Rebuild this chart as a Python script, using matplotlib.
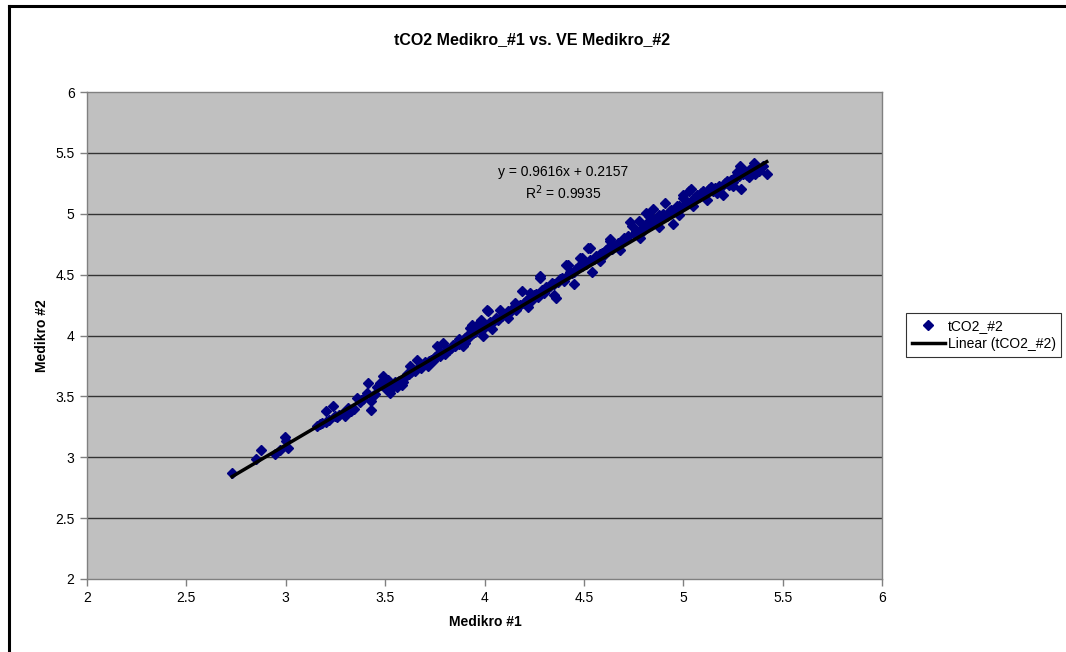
import matplotlib
matplotlib.use("Agg")
import matplotlib.pyplot as plt
from matplotlib.lines import Line2D

plt.rcParams['font.family'] = ['Liberation Sans', 'DejaVu Sans']

title = "tCO2 Medikro_#1 vs. VE Medikro_#2"
xlabel = "Medikro #1"
ylabel = "Medikro #2"
series_name = "tCO2_#2"
trend_name = "Linear (tCO2_#2)"
slope = 0.9616
intercept = 0.2157
r2 = 0.9935
xticks = [2, 2.5, 3, 3.5, 4, 4.5, 5, 5.5, 6]
yticks = [2, 2.5, 3, 3.5, 4, 4.5, 5, 5.5, 6]

pts_low = [(2.73, 2.87), (2.85, 2.985), (2.875, 3.056), (2.946, 3.03), (2.97, 3.06), (2.996, 3.166),
           (3.0, 3.136), (3.01, 3.08), (3.155, 3.26), (3.17, 3.27), (3.18, 3.28), (3.2, 3.29),
           (3.205, 3.377), (3.22, 3.31), (3.236, 3.42), (3.248, 3.336), (3.26, 3.33), (3.27, 3.35),
           (3.29, 3.36), (3.3, 3.34), (3.315, 3.405), (3.31, 3.37), (3.33, 3.38), (3.345, 3.40)]
pts_a = [(3.357, 3.487), (3.375, 3.45), (3.38, 3.47), (3.39, 3.48), (3.407, 3.53), (3.415, 3.61),
         (3.427, 3.39), (3.43, 3.46), (3.44, 3.50), (3.45, 3.52), (3.458, 3.58), (3.474, 3.61),
         (3.474, 3.597), (3.49, 3.665), (3.50, 3.57), (3.51, 3.59), (3.516, 3.638), (3.525, 3.528),
         (3.528, 3.56), (3.54, 3.60), (3.55, 3.62), (3.56, 3.58), (3.57, 3.63), (3.583, 3.597),
         (3.59, 3.62), (3.60, 3.66), (3.61, 3.68), (3.625, 3.747), (3.63, 3.70), (3.64, 3.72),
         (3.65, 3.71), (3.66, 3.80), (3.67, 3.74), (3.68, 3.73), (3.69, 3.76), (3.70, 3.78),
         (3.717, 3.747), (3.72, 3.79), (3.55, 3.59), (3.62, 3.68)]
pts_b = [(3.73, 3.80), (3.74, 3.79), (3.75, 3.82), (3.76, 3.91), (3.76, 3.84), (3.77, 3.85),
         (3.776, 3.83), (3.78, 3.86), (3.79, 3.94), (3.80, 3.87), (3.81, 3.89), (3.82, 3.88),
         (3.83, 3.90), (3.84, 3.92), (3.85, 3.91), (3.86, 3.94), (3.87, 3.97), (3.87, 3.93),
         (3.88, 3.95), (3.89, 3.91), (3.90, 3.98), (3.91, 4.00), (3.92, 3.99), (3.927, 4.06),
         (3.935, 4.09), (3.94, 4.02), (3.95, 4.03), (3.96, 4.09), (3.97, 4.05), (3.98, 4.13),
         (3.985, 4.10), (3.99, 3.995), (4.0, 4.07), (4.01, 4.09), (4.015, 4.21), (4.02, 4.20),
         (4.03, 4.11), (4.04, 4.05), (4.05, 4.12), (4.06, 4.14), (4.07, 4.13), (4.08, 4.21),
         (4.09, 4.16), (4.10, 4.18), (3.80, 3.85), (3.90, 3.94)]
pts_c = [(4.11, 4.17), (4.12, 4.20), (4.13, 4.19), (4.14, 4.22), (4.155, 4.27), (4.16, 4.21),
         (4.17, 4.24), (4.18, 4.25), (4.19, 4.365), (4.20, 4.27), (4.21, 4.28), (4.22, 4.30),
         (4.23, 4.35), (4.24, 4.29), (4.25, 4.33), (4.26, 4.34), (4.27, 4.32), (4.28, 4.49),
         (4.28, 4.475), (4.29, 4.37), (4.30, 4.35), (4.31, 4.40), (4.32, 4.39), (4.33, 4.41),
         (4.34, 4.43), (4.35, 4.42), (4.36, 4.31), (4.37, 4.44), (4.38, 4.46), (4.39, 4.47),
         (4.40, 4.45), (4.41, 4.58), (4.42, 4.58), (4.42, 4.50), (4.43, 4.52), (4.44, 4.51),
         (4.45, 4.52), (4.46, 4.55), (4.47, 4.56), (4.48, 4.64), (4.49, 4.64), (4.49, 4.57),
         (4.50, 4.60), (4.51, 4.59), (4.52, 4.72), (4.53, 4.72), (4.53, 4.62), (4.54, 4.52),
         (4.55, 4.63), (4.56, 4.65), (4.57, 4.64), (4.58, 4.67), (4.59, 4.68), (4.60, 4.66),
         (4.12, 4.14), (4.22, 4.23), (4.35, 4.33), (4.45, 4.42), (4.58, 4.61)]
pts_d = [(4.61, 4.70), (4.62, 4.72), (4.63, 4.78), (4.63, 4.79), (4.64, 4.71), (4.65, 4.74),
         (4.66, 4.735), (4.67, 4.76), (4.68, 4.75), (4.69, 4.78), (4.70, 4.80), (4.71, 4.79),
         (4.72, 4.82), (4.73, 4.93), (4.74, 4.90), (4.75, 4.83), (4.76, 4.86), (4.775, 4.94),
         (4.78, 4.87), (4.79, 4.85), (4.80, 4.90), (4.81, 4.88), (4.815, 5.01), (4.82, 4.92),
         (4.83, 4.98), (4.84, 4.91), (4.85, 5.04), (4.86, 4.95), (4.87, 4.93), (4.88, 4.99),
         (4.89, 4.97), (4.90, 5.00), (4.91, 5.09), (4.92, 4.98), (4.935, 5.02), (4.94, 5.03),
         (4.95, 4.915), (4.96, 5.04), (4.97, 5.065), (4.98, 5.06), (4.99, 5.05),
         (4.68, 4.70), (4.78, 4.80), (4.88, 4.89), (4.98, 4.99)]
pts_e = [(5.0, 5.15), (5.0, 5.13), (5.01, 5.08), (5.02, 5.10), (5.03, 5.19), (5.04, 5.20),
         (5.05, 5.12), (5.06, 5.13), (5.07, 5.15), (5.08, 5.14), (5.09, 5.17), (5.10, 5.19),
         (5.11, 5.16), (5.12, 5.18), (5.13, 5.20), (5.14, 5.22), (5.15, 5.19), (5.16, 5.21),
         (5.18, 5.23), (5.19, 5.22), (5.20, 5.15), (5.21, 5.25), (5.22, 5.27), (5.23, 5.24),
         (5.24, 5.28), (5.25, 5.26), (5.26, 5.30), (5.27, 5.34), (5.28, 5.31), (5.285, 5.39),
         (5.29, 5.20), (5.30, 5.33), (5.31, 5.35), (5.32, 5.32), (5.33, 5.36), (5.34, 5.33),
         (5.35, 5.38), (5.355, 5.415), (5.37, 5.36), (5.38, 5.35), (5.40, 5.39), (5.42, 5.325),
         (5.05, 5.06), (5.12, 5.11), (5.17, 5.17), (5.25, 5.23), (5.33, 5.30), (5.36, 5.33)]

points = pts_low + pts_a + pts_b + pts_c + pts_d + pts_e
xs = [p[0] for p in points]
ys = [p[1] for p in points]

W, H = 1066, 652
fig = plt.figure(figsize=(W / 100, H / 100), dpi=100)
fig.patch.set_facecolor('white')

# outer chart border (left and top visible)
fig.add_artist(Line2D([9 / W, 9 / W], [0, 1 - 6 / H], transform=fig.transFigure, color='black', lw=2.2))
fig.add_artist(Line2D([9 / W, 1.0], [1 - 6 / H, 1 - 6 / H], transform=fig.transFigure, color='black', lw=2.2))

left, right, top, bottom = 87, 882, 92, 579
ax = fig.add_axes([left / W, 1 - bottom / H, (right - left) / W, (bottom - top) / H])
ax.set_facecolor('#C0C0C0')
ax.set_xlim(2, 6)
ax.set_ylim(2, 6)
ax.set_xticks(xticks)
ax.set_yticks(yticks)
ax.set_xticklabels([f"{t:g}" for t in xticks])
ax.set_yticklabels([f"{t:g}" for t in yticks])
ax.tick_params(direction='out', length=5, width=1, color='#808080', labelsize=10, pad=4)
for s in ax.spines.values():
    s.set_color('#808080')
    s.set_linewidth(1)
for yv in yticks[1:-1]:
    ax.axhline(yv, color='#333333', lw=1, zorder=1)

ax.plot(xs, ys, linestyle='none', marker='D', ms=4.8, color='#000080', zorder=3)
x0, x1 = min(xs), max(xs)
ax.plot([x0, x1], [slope * x0 + intercept, slope * x1 + intercept], color='black', lw=2.5, zorder=4)

fig.text(563 / W, 1 - 172 / H, f"y = {slope}x + {intercept}", fontsize=10, ha='center', va='center')
fig.text(563 / W, 1 - 193 / H, f"R$^2$ = {r2}", fontsize=10, ha='center', va='center')

fig.text(532 / W, 1 - 40 / H, title, fontsize=11.5, fontweight='bold', ha='center', va='center')
fig.text(485 / W, 1 - 622 / H, xlabel, fontsize=10, fontweight='bold', ha='center', va='center')
fig.text(42 / W, 1 - 336 / H, ylabel, fontsize=10, fontweight='bold', ha='center', va='center', rotation=90)

handles = [Line2D([], [], linestyle='none', marker='D', ms=4.8, color='#000080'),
           Line2D([], [], color='black', lw=2.5)]
leg = fig.legend(handles, [series_name, trend_name], loc='center left',
                 bbox_to_anchor=(906 / W, 1 - 335 / H), fontsize=10, frameon=True,
                 fancybox=False, edgecolor='black', borderpad=0.4, handlelength=2.4,
                 handletextpad=0.2, labelspacing=0.3, borderaxespad=0)
leg.get_frame().set_linewidth(0.8)

fig.savefig('out.png', dpi=100)
